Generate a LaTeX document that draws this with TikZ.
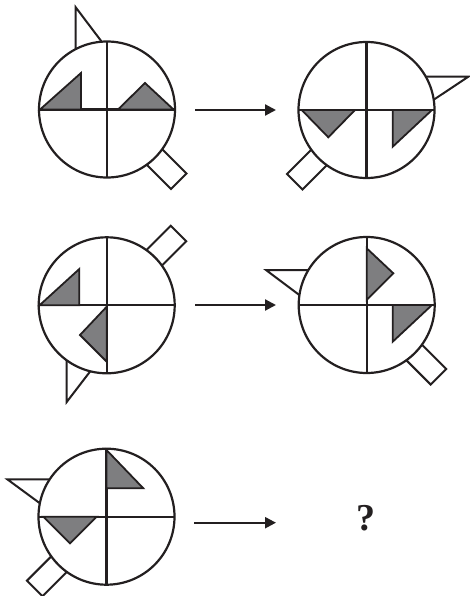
\documentclass[tikz,border=0pt]{standalone}
\usepackage{fontspec}
\setmainfont{Liberation Serif}
\usetikzlibrary{arrows.meta,calc}
\definecolor{triGray}{HTML}{7E7E80}
\definecolor{inkBlack}{HTML}{231F20}
\begin{document}
\begin{tikzpicture}[x=1pt,y=1pt,
  ring/.style={circle,draw=inkBlack,fill=white,line width=2.2pt,minimum size=136pt,inner sep=0pt,outer sep=0pt},
  cross/.style={draw=inkBlack,line width=2.2pt},
  tri/.style={draw=inkBlack,fill=triGray,line width=1.8pt,line join=miter},
  attach/.style={draw=inkBlack,fill=white,line width=2pt,line join=miter},
  arr/.style={draw=inkBlack,line width=2.2pt,-{Triangle[length=11pt,width=11pt]}}]
\useasboundingbox (0,0) rectangle (470,-596);
\fill[white] (0,0) rectangle (470,-596);

% ---------- handles ----------
\begin{scope}[shift={(107,-109.5)},rotate=-45]
  \draw[attach] (55,-11) rectangle (101.5,11);
\end{scope}
\begin{scope}[shift={(366.5,-110)},rotate=225]
  \draw[attach] (55,-11) rectangle (101.5,11);
\end{scope}
\begin{scope}[shift={(106.7,-305.3)},rotate=45]
  \draw[attach] (55,-11) rectangle (101.5,11);
\end{scope}
\begin{scope}[shift={(366.7,-305)},rotate=-45]
  \draw[attach] (55,-11) rectangle (101.5,11);
\end{scope}
\begin{scope}[shift={(106.5,-516.7)},rotate=225]
  \draw[attach] (55,-11) rectangle (101.5,11);
\end{scope}

% ---------- flags ----------
\draw[attach] (75.7,-55) -- (75.7,-7.3) -- (104.1,-44.9) -- cycle;
\draw[attach] (421,-76.7) -- (468.3,-76.7) -- (430,-102.2) -- cycle;
\draw[attach] (66.7,-355) -- (66.7,-402) -- (92.4,-368.5) -- cycle;
\draw[attach] (312,-270) -- (266,-270) -- (302.5,-297.4) -- cycle;
\draw[attach] (54,-479.3) -- (7.3,-479.3) -- (43.2,-505.7) -- cycle;

% ---------- circles ----------
\node[ring] (c1) at (107,-109.5) {};
\node[ring] (c2) at (366.5,-110) {};
\node[ring] (c3) at (106.7,-305.3) {};
\node[ring] (c4) at (366.7,-305) {};
\node[ring] (c5) at (106.5,-516.7) {};

\foreach \c in {c1,c2,c3,c4,c5}{
  \draw[cross] (\c.north) -- (\c.south);
  \draw[cross] (\c.west) -- (\c.east);
}

% ---------- grey triangles ----------
\draw[tri] (40,-109.5) -- (81,-73) -- (81,-109.5) -- cycle;
\draw[tri] (118,-109.5) -- (145,-83) -- (173.5,-109.5) -- cycle;

\draw[tri] (301.7,-110) -- (355,-110) -- (328.3,-137.3) -- cycle;
\draw[tri] (392.7,-110) -- (432,-110) -- (392.7,-146.7) -- cycle;

\draw[tri] (39.5,-305.3) -- (79.3,-269) -- (79.3,-305.3) -- cycle;
\draw[tri] (106.7,-306.7) -- (106.7,-361.7) -- (80,-335) -- cycle;

\draw[tri] (366.7,-248.3) -- (393.3,-273.3) -- (366.7,-300) -- cycle;
\draw[tri] (392.7,-305) -- (432,-305) -- (392.7,-341.7) -- cycle;

\draw[tri] (106.5,-450) -- (106.5,-488.3) -- (143.3,-488.3) -- cycle;
\draw[tri] (43.3,-516.7) -- (96.7,-516.7) -- (70,-543.3) -- cycle;

% ---------- question mark ----------
\node[font=\fontsize{38}{38}\selectfont\bfseries,text=inkBlack,inner sep=0pt] (q) at (366,-518) {?};

% ---------- arrows ----------
\coordinate (a1s) at (195,-110);  \coordinate (a1e) at (276,-110);
\coordinate (a2s) at (195,-305);  \coordinate (a2e) at (276,-305);
\coordinate (a3s) at (194,-522.7); \coordinate (a3e) at (276,-522.7);
\draw[arr] (a1s) -- (a1e);
\draw[arr] (a2s) -- (a2e);
\draw[arr] (a3s) -- (a3e);
\end{tikzpicture}
\end{document}
